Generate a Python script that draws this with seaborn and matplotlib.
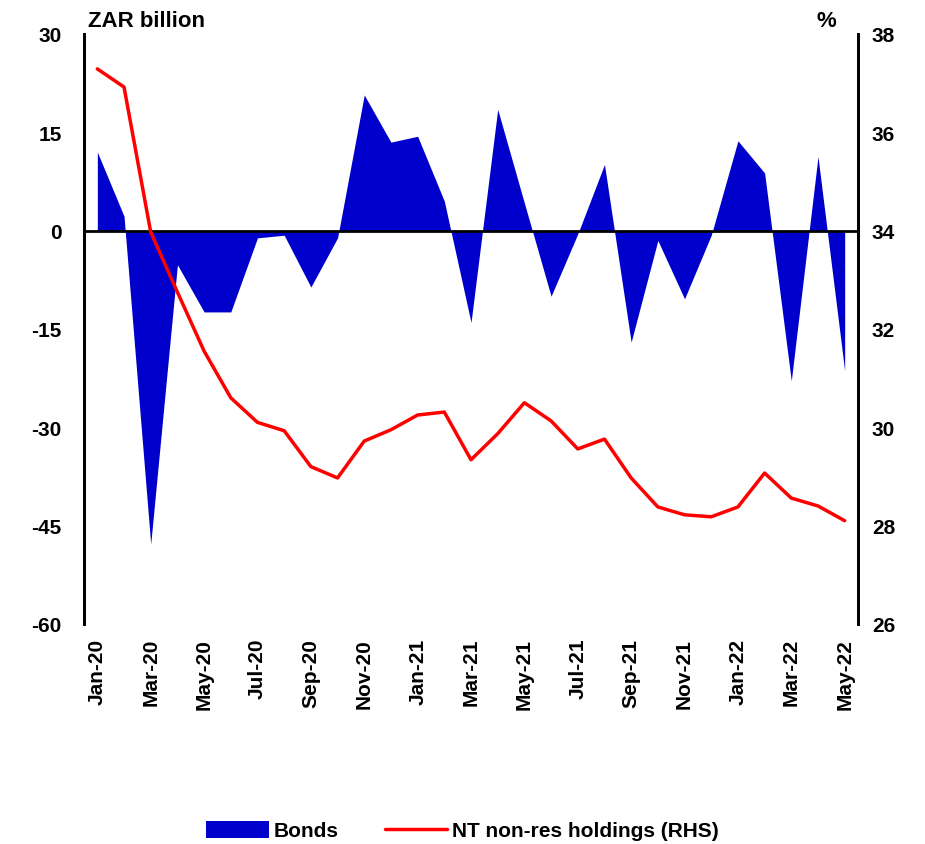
import numpy as np
import pandas as pd
import matplotlib
matplotlib.use("Agg")
import matplotlib.pyplot as plt
import seaborn as sns
from matplotlib.patches import Patch
from matplotlib.lines import Line2D

months = ["Jan-20", "Feb-20", "Mar-20", "Apr-20", "May-20", "Jun-20", "Jul-20", "Aug-20",
          "Sep-20", "Oct-20", "Nov-20", "Dec-20", "Jan-21", "Feb-21", "Mar-21", "Apr-21",
          "May-21", "Jun-21", "Jul-21", "Aug-21", "Sep-21", "Oct-21", "Nov-21", "Dec-21",
          "Jan-22", "Feb-22", "Mar-22", "Apr-22", "May-22"]

bonds = [12.0, 2.2, -47.8, -5.2, -12.4, -12.4, -1.1, -0.7, -8.6, -1.1, 20.7, 13.5,
         14.4, 4.5, -14.0, 18.5, 4.2, -10.0, -0.5, 10.1, -17.0, -1.5, -10.4, -0.7,
         13.7, 8.8, -22.9, 11.3, -21.4]

nonres = [37.29, 36.92, 33.97, 32.75, 31.55, 30.6, 30.1, 29.93, 29.2, 28.97, 29.72, 29.95,
          30.25, 30.31, 29.34, 29.87, 30.5, 30.13, 29.56, 29.76, 28.97, 28.38, 28.22, 28.18,
          28.38, 29.07, 28.56, 28.4, 28.1]

left_ticks = [30, 15, 0, -15, -30, -45, -60]
right_ticks = [38, 36, 34, 32, 30, 28, 26]

df = pd.DataFrame({"month": months, "bonds": bonds, "nonres": nonres})
df["x"] = np.arange(len(df))

sns.set_style("white")
plt.rcParams['font.family'] = ['Liberation Sans', 'DejaVu Sans']
plt.rcParams['font.weight'] = 'bold'
plt.rcParams['text.color'] = 'black'
plt.rcParams['xtick.color'] = 'black'
plt.rcParams['ytick.color'] = 'black'

fig = plt.figure(figsize=(9.25, 8.45), dpi=100)
ax = fig.add_axes([0.0908, 0.2604, 0.8368, 0.6982])

ax.fill_between(df["x"], df["bonds"], 0, color="#0000CC", linewidth=0)
ax.axhline(0, color="black", linewidth=2, zorder=3)

ax.set_xlim(-0.5, len(df) - 0.5)
ax.set_ylim(-60, 30)
ax.set_yticks(left_ticks)
ax.set_yticklabels([str(t) for t in left_ticks], fontsize=15, fontweight="bold")
ax.set_xticks(df["x"][::2])
ax.set_xticklabels(df["month"][::2], rotation=90, fontsize=15, fontweight="bold")
ax.tick_params(axis="x", length=0, pad=10)
ax.tick_params(axis="y", length=0, pad=16)
ax.set_xlabel("")
ax.set_ylabel("")

ax2 = ax.twinx()
sns.lineplot(data=df, x="x", y="nonres", ax=ax2, color="#FF0000", linewidth=2.5)
ax2.set_ylim(26, 38)
ax2.set_yticks(right_ticks)
ax2.set_yticklabels([str(t) for t in right_ticks], fontsize=15, fontweight="bold")
ax2.tick_params(axis="y", length=0, pad=10)
ax2.set_xlabel("")
ax2.set_ylabel("")

for a in (ax, ax2):
    a.spines["top"].set_visible(False)
    a.spines["bottom"].set_visible(False)
    a.spines["left"].set_color("black")
    a.spines["right"].set_color("black")
    a.spines["left"].set_linewidth(2)
    a.spines["right"].set_linewidth(2)
    a.grid(False)

fig.text(0.095, 0.975, "ZAR billion", fontsize=16, fontweight="bold", ha="left", va="center")
fig.text(0.893, 0.975, "%", fontsize=16, fontweight="bold", ha="center", va="center")

handles = [Patch(facecolor="#0000CC", edgecolor="none"),
           Line2D([0], [0], color="#FF0000", linewidth=2.5)]
fig.legend(handles, ["Bonds", "NT non-res holdings (RHS)"], loc="lower center",
           bbox_to_anchor=(0.5, -0.018), ncol=2, frameon=False, fontsize=15,
           handlelength=3.0, handleheight=0.9, columnspacing=2.2, handletextpad=0.25)

fig.savefig("out.png", dpi=100)
